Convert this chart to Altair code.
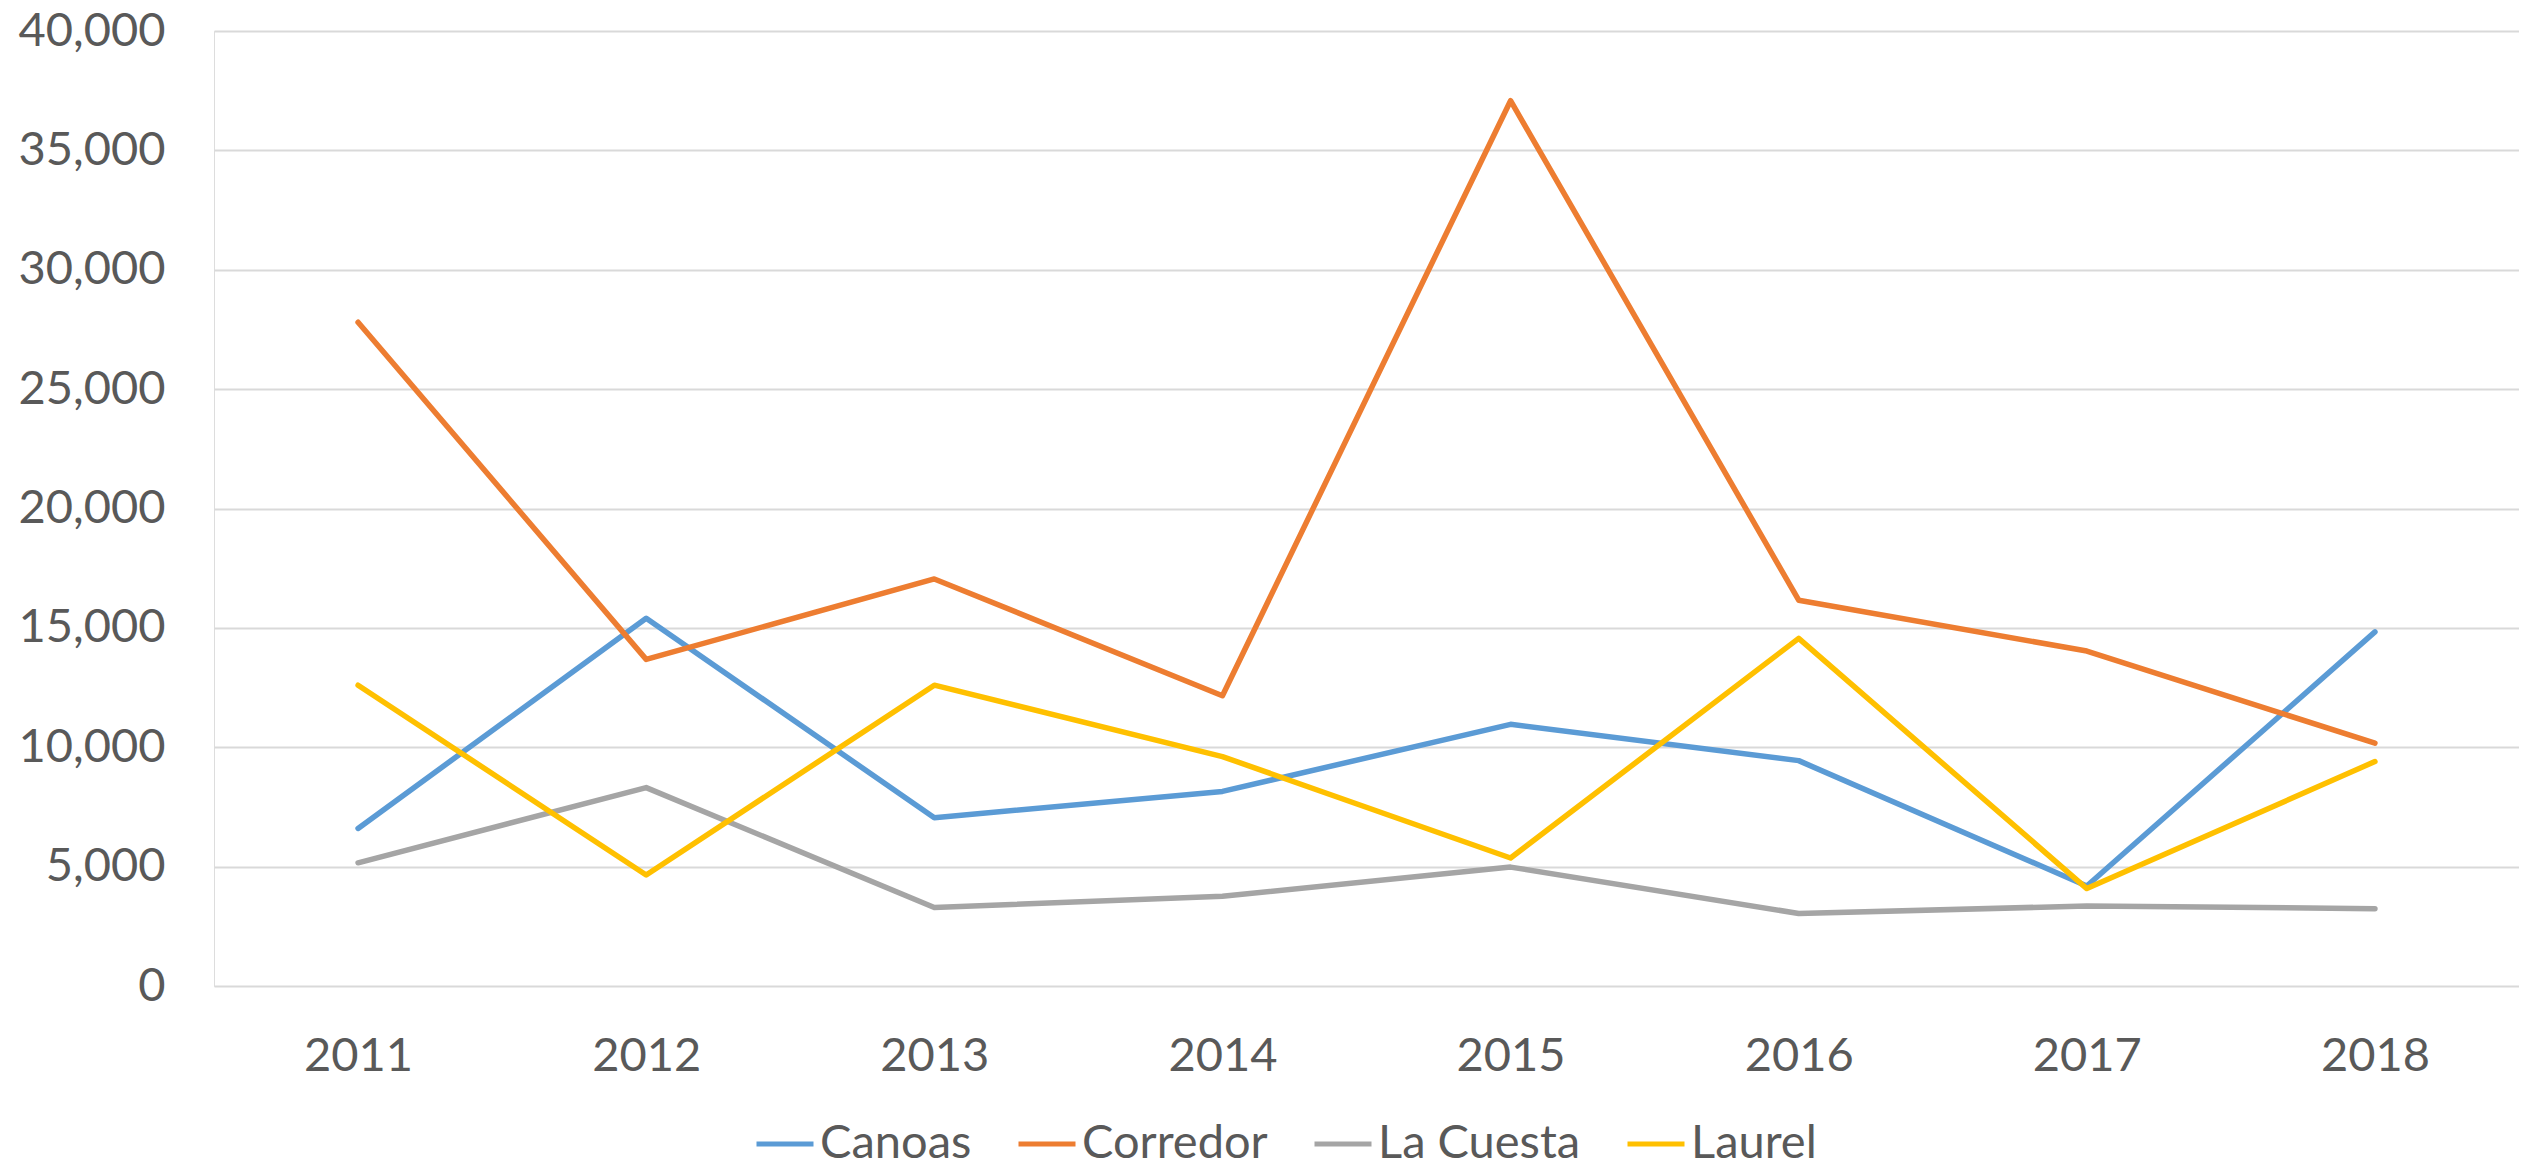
import altair as alt
import pandas as pd

years = ["2011", "2012", "2013", "2014", "2015", "2016", "2017", "2018"]
series_names = ["Canoas", "Corredor", "La Cuesta", "Laurel"]
canoas = [6600, 15400, 7050, 8150, 10960, 9440, 4190, 14830]
corredor = [27800, 13680, 17050, 12160, 37080, 16160, 14030, 10170]
la_cuesta = [5160, 8310, 3290, 3760, 4980, 3040, 3350, 3240]
laurel = [12600, 4650, 12600, 9610, 5360, 14560, 4080, 9400]
y_ticks = [0, 5000, 10000, 15000, 20000, 25000, 30000, 35000, 40000]
colors = ["#5B9BD5", "#ED7D31", "#A5A5A5", "#FFC000"]

rows = []
for name, vals in zip(series_names, [canoas, corredor, la_cuesta, laurel]):
    for i, (yr, v) in enumerate(zip(years, vals)):
        rows.append({"Year": yr, "Value": v, "Series": name, "order": series_names.index(name)})
df = pd.DataFrame(rows)

FONT = "Lato"
TXT = "#595959"

chart = alt.Chart(df).mark_line(strokeWidth=5.5, strokeCap="round", strokeJoin="round").encode(
    x=alt.X("Year:O", sort=years,
            scale=alt.Scale(type="point", padding=0.5),
            axis=alt.Axis(title=None, labelAngle=0, domain=False, ticks=False, tickSize=0,
                          grid=False, labelFontSize=47, labelFont=FONT, labelColor=TXT,
                          labelPadding=70, labelBaseline="middle")),
    y=alt.Y("Value:Q", scale=alt.Scale(domain=[0, 40000], nice=False),
            axis=alt.Axis(title=None, values=y_ticks, format=",.0f", domain=False, ticks=False,
                          tickSize=0, grid=True, gridColor="#D9D9D9", gridWidth=2,
                          labelFontSize=47, labelFont=FONT, labelColor=TXT, labelPadding=49)),
    color=alt.Color("Series:N", sort=series_names,
                    scale=alt.Scale(domain=series_names, range=colors),
                    legend=alt.Legend(title=None, orient="none", direction="horizontal",
                                      legendX=540, legendY=1082, symbolType="stroke",
                                      symbolSize=3249, symbolStrokeWidth=5,
                                      labelFontSize=47, labelFont=FONT, labelColor=TXT,
                                      labelLimit=500, labelOffset=4, columnPadding=36,
                                      columns=4)),
    order="order:Q",
).properties(
    width=2305, height=955,
    autosize=alt.AutoSizeParams(type="none"),
    padding={"left": 206, "top": 23, "right": 0, "bottom": 174},
).configure_view(stroke=None).configure(background="white")

chart.save("out.html", embed_options={"renderer": "svg", "actions": False})
